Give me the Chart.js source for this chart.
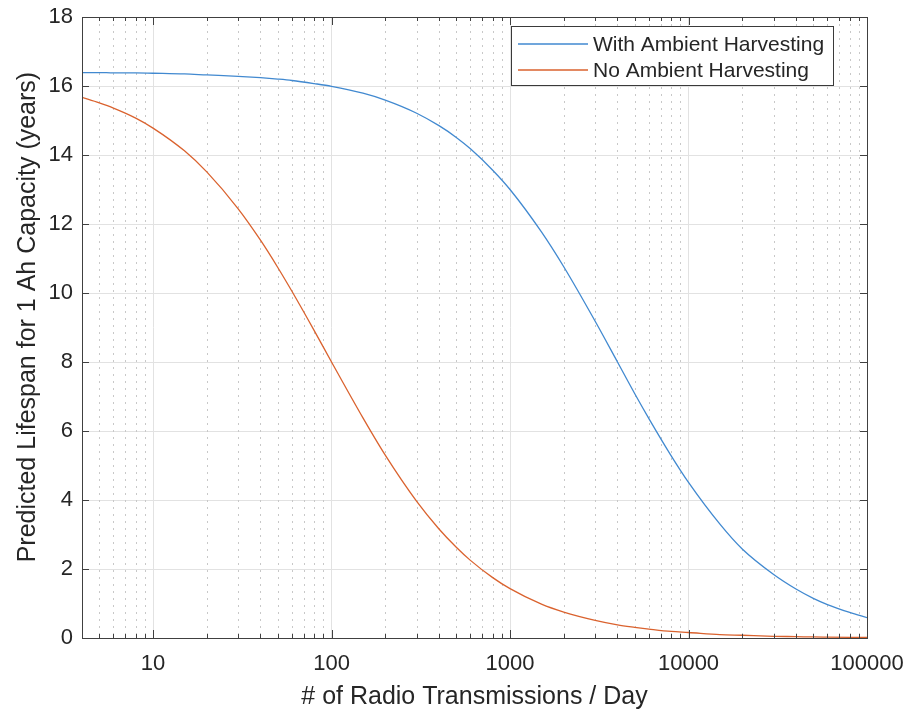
<!DOCTYPE html>
<html>
<head>
<meta charset="utf-8">
<script src="https://cdn.jsdelivr.net/npm/chart.js@4.4.1/dist/chart.umd.min.js"></script>
<style>
  html, body { margin: 0; padding: 0; background: #ffffff; }
  #wrap { width: 911px; height: 715px; position: relative; }
</style>
</head>
<body>
<div id="wrap"><canvas id="c" width="911" height="715"></canvas></div>
<script>
// ---- Data ----
const transmissions = [4,5,6,8,10,15,20,30,40,50,60,80,100,150,200,300,400,500,600,800,1000,1500,2000,3000,4000,5000,6000,8000,10000,15000,20000,30000,40000,50000,60000,80000,100000];
const withHarvesting = [16.39,16.39,16.38,16.38,16.37,16.35,16.32,16.28,16.24,16.20,16.16,16.07,15.99,15.79,15.59,15.21,14.85,14.51,14.18,13.56,13.00,11.77,10.76,9.18,8.00,7.08,6.36,5.28,4.51,3.30,2.58,1.84,1.42,1.15,0.97,0.74,0.59];
const noHarvesting = [15.67,15.51,15.36,15.07,14.78,14.12,13.51,12.44,11.53,10.74,10.05,8.91,8.00,6.38,5.30,3.96,3.16,2.63,2.25,1.75,1.43,0.98,0.75,0.51,0.38,0.31,0.26,0.19,0.16,0.10,0.08,0.05,0.04,0.03,0.026,0.02,0.016];
const seriesLabels = ['With Ambient Harvesting', 'No Ambient Harvesting'];
const xTickValues = [10, 100, 1000, 10000, 100000];
const xRange = [4, 100000];
const yRange = [0, 18];
const yStep = 2;
const xTitle = '# of Radio Transmissions / Day';
const yTitle = 'Predicted Lifespan for 1 Ah Capacity (years)';

const FONT = "'Liberation Sans', Arial, Helvetica, sans-serif";
const TEXT = '#262626';
const AXIS = '#404040';
const BLUE = '#4189d0';
const RED = '#da622e';

function toPoints(ys) { return transmissions.map((x, i) => ({ x: x, y: ys[i] })); }

// Minor log positions (2..9 in each decade) inside the range
function minorValues() {
  const out = [];
  for (let d = 1; d <= xRange[1]; d *= 10) {
    for (let k = 2; k <= 9; k++) {
      const v = k * d;
      if (v >= xRange[0] && v <= xRange[1]) out.push(v);
    }
  }
  return out;
}

const matlabPlugin = {
  id: 'matlabStyle',
  beforeDatasetsDraw(chart) {
    const { ctx, chartArea: a, scales: { x } } = chart;
    ctx.save();
    ctx.strokeStyle = '#c8c8c8';
    ctx.lineWidth = 1;
    ctx.setLineDash([2, 5]);
    minorValues().forEach(v => {
      const px = Math.round(x.getPixelForValue(v)) + 0.5;
      ctx.beginPath();
      ctx.moveTo(px, a.top);
      ctx.lineTo(px, a.bottom);
      ctx.stroke();
    });
    ctx.restore();
  },
  afterDatasetsDraw(chart) {
    const { ctx, chartArea: a, scales: { x, y } } = chart;
    ctx.save();
    ctx.strokeStyle = AXIS;
    ctx.lineWidth = 1;
    ctx.setLineDash([]);
    ctx.strokeRect(Math.round(a.left) + 0.5, Math.round(a.top) + 0.5, Math.round(a.right - a.left), Math.round(a.bottom - a.top));
    const drawX = (v, len) => {
      const px = Math.round(x.getPixelForValue(v)) + 0.5;
      ctx.beginPath();
      ctx.moveTo(px, a.bottom); ctx.lineTo(px, a.bottom - len);
      ctx.moveTo(px, a.top); ctx.lineTo(px, a.top + len);
      ctx.stroke();
    };
    minorValues().forEach(v => drawX(v, 4));
    xTickValues.forEach(v => drawX(v, 8));
    for (let v = yRange[0]; v <= yRange[1]; v += yStep) {
      const py = Math.round(y.getPixelForValue(v)) + 0.5;
      ctx.beginPath();
      ctx.moveTo(a.left, py); ctx.lineTo(a.left + 7, py);
      ctx.moveTo(a.right, py); ctx.lineTo(a.right - 7, py);
      ctx.stroke();
    }
    // legend box
    const lx = 511.5, ly = 26.5, lw = 322, lh = 59;
    ctx.fillStyle = '#ffffff';
    ctx.fillRect(lx, ly, lw, lh);
    ctx.strokeStyle = '#3a3a3a';
    ctx.strokeRect(lx, ly, lw, lh);
    ctx.font = '21px ' + FONT;
    ctx.textBaseline = 'middle';
    ctx.textAlign = 'left';
    chart.data.datasets.forEach((ds, i) => {
      const rowY = 44 + i * 26;
      ctx.strokeStyle = ds.borderColor;
      ctx.lineWidth = 1.3;
      ctx.beginPath();
      ctx.moveTo(518, rowY); ctx.lineTo(588, rowY);
      ctx.stroke();
      ctx.fillStyle = TEXT;
      ctx.fillText(ds.label, 593, rowY + 1);
    });
    ctx.restore();
  }
};

new Chart(document.getElementById('c'), {
  type: 'line',
  data: {
    datasets: [
      { label: seriesLabels[0], data: toPoints(withHarvesting), borderColor: BLUE, borderWidth: 1.3, pointRadius: 0, cubicInterpolationMode: 'monotone', fill: false },
      { label: seriesLabels[1], data: toPoints(noHarvesting), borderColor: RED, borderWidth: 1.3, pointRadius: 0, cubicInterpolationMode: 'monotone', fill: false }
    ]
  },
  options: {
    responsive: false,
    animation: false,
    devicePixelRatio: 1,
    layout: { padding: { left: 0, top: 17, right: 44, bottom: 0 } },
    plugins: { legend: { display: false }, tooltip: { enabled: false } },
    scales: {
      x: {
        type: 'logarithmic',
        min: xRange[0],
        max: xRange[1],
        afterBuildTicks(scale) { scale.ticks = xTickValues.map(v => ({ value: v, major: true })); },
        afterFit(scale) { scale.height = 77; scale.paddingLeft = 0; scale.paddingRight = 0; },
        grid: { color: '#e2e2e2', lineWidth: 1, drawTicks: false },
        border: { display: false },
        ticks: {
          autoSkip: false, maxRotation: 0, padding: 13, color: TEXT,
          font: { family: FONT, size: 22 },
          callback: (v) => String(v)
        },
        title: { display: true, text: xTitle, color: TEXT, font: { family: FONT, size: 25 }, padding: { top: 0, bottom: 3 } }
      },
      y: {
        type: 'linear',
        min: yRange[0],
        max: yRange[1],
        afterFit(scale) { scale.width = 82; scale.paddingTop = 0; scale.paddingBottom = 0; },
        grid: { color: '#e2e2e2', lineWidth: 1, drawTicks: false },
        border: { display: false },
        ticks: { stepSize: yStep, padding: 9, color: TEXT, font: { family: FONT, size: 22 } },
        title: { display: true, text: '   ' + yTitle, color: TEXT, font: { family: FONT, size: 25 }, padding: { top: 13, bottom: 0 } }
      }
    }
  },
  plugins: [matlabPlugin]
});
</script>
</body>
</html>
